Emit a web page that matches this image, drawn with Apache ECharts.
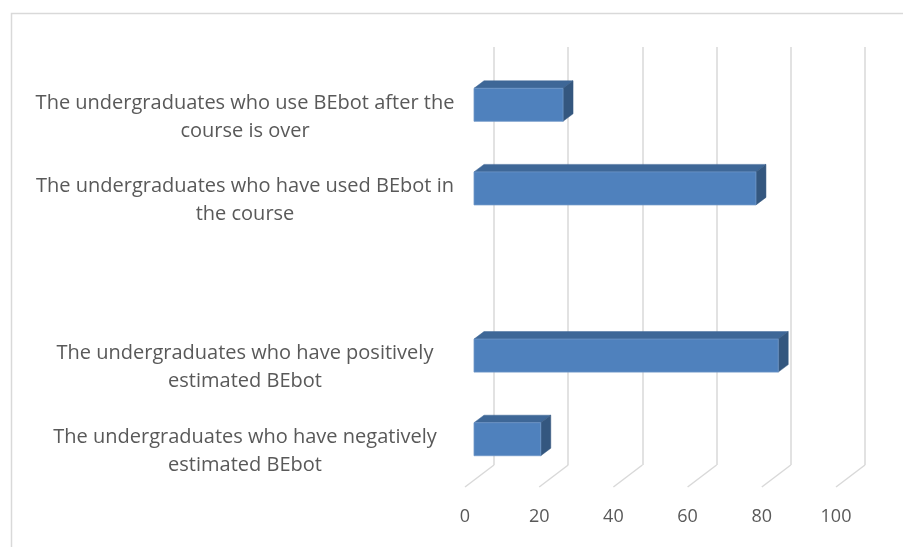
<!DOCTYPE html>
<html>
<head>
<meta charset="utf-8">
<script src="https://cdn.jsdelivr.net/npm/echarts@6/dist/echarts.min.js"></script>
<style>html,body{margin:0;padding:0;background:#fff;}#c{width:903px;height:547px;}</style>
</head>
<body>
<div id="c"></div>
<script>
const categories = [
  'The undergraduates who use BEbot after the\ncourse is over',
  'The undergraduates who have used BEbot in\nthe course',
  '',
  'The undergraduates who have positively\nestimated BEbot',
  'The undergraduates who have negatively\nestimated BEbot'
];
const values = [24, 76, null, 82, 18];
const xTicks = [0, 20, 40, 60, 80, 100];

const chart = echarts.init(document.getElementById('c'), null, {renderer: 'canvas'});

// perspective offsets (pixel styling of the 3D look)
const FRONT_DX = -20, FRONT_DY = 16, DEPTH_DX = 10, DEPTH_DY = -7.5;
const FLOOR_DX = -29, FLOOR_DY = 22;

const barData = [];
values.forEach((v, i) => { if (v !== null) barData.push([v, i]); });

chart.setOption({
  backgroundColor: '#ffffff',
  animation: false,
  graphic: [{
    type: 'rect', left: 9, top: 11, z: -10,
    shape: {width: 903, height: 547},
    style: {fill: 'none', stroke: '#d9d9d9', lineWidth: 1.5}
  }],
  grid: {left: 494, right: 38, top: 47, bottom: 82},
  xAxis: {
    type: 'value', min: 0, max: 100, interval: 20,
    axisLine: {show: false}, axisTick: {show: false},
    splitLine: {show: true, lineStyle: {color: '#d9d9d9', width: 1.5}},
    axisLabel: {
      color: '#595959', fontFamily: 'Open Sans', fontSize: 18,
      margin: 43, padding: [0, 58, 0, 0]
    }
  },
  yAxis: {
    type: 'category', inverse: true, data: categories,
    axisLine: {show: false}, axisTick: {show: false}, splitLine: {show: false},
    axisLabel: {
      color: '#595959', fontFamily: 'Open Sans', fontSize: 20, lineHeight: 28,
      align: 'center', verticalAlign: 'top', margin: 249, interval: 0
    }
  },
  series: [
    {
      type: 'custom', clip: false, silent: true,
      data: xTicks.map(t => [t, 0]),
      encode: {x: 0, y: 1},
      renderItem: function (params, api) {
        const cs = params.coordSys;
        const x = api.coord([api.value(0), 0])[0];
        const yb = cs.y + cs.height;
        return {
          type: 'line',
          shape: {x1: x, y1: yb, x2: x + FLOOR_DX, y2: yb + FLOOR_DY},
          style: {stroke: '#d9d9d9', lineWidth: 1.5}
        };
      }
    },
    {
      type: 'custom', clip: false,
      data: barData,
      encode: {x: 0, y: 1},
      renderItem: function (params, api) {
        const v = api.value(0), ci = api.value(1);
        const p0 = api.coord([0, ci]);
        const p1 = api.coord([v, ci]);
        const h = api.size([0, 1])[1] * 0.395;
        const x0 = p0[0] + FRONT_DX, x1 = p1[0] + FRONT_DX;
        const yt = p0[1] + FRONT_DY - h / 2, yb = yt + h;
        return {
          type: 'group',
          children: [
            {type: 'polygon', shape: {points: [[x0, yt], [x0 + DEPTH_DX, yt + DEPTH_DY], [x1 + DEPTH_DX, yt + DEPTH_DY], [x1, yt]]},
             style: {fill: '#3e6797', stroke: '#3e6797', lineWidth: 0.5}},
            {type: 'polygon', shape: {points: [[x1, yt], [x1 + DEPTH_DX, yt + DEPTH_DY], [x1 + DEPTH_DX, yb + DEPTH_DY], [x1, yb]]},
             style: {fill: '#34577f', stroke: '#34577f', lineWidth: 0.5}},
            {type: 'rect', shape: {x: x0, y: yt, width: x1 - x0, height: h},
             style: {fill: '#4f81bd', stroke: '#6f97c8', lineWidth: 0.8}}
          ]
        };
      }
    }
  ]
});
</script>
</body>
</html>
